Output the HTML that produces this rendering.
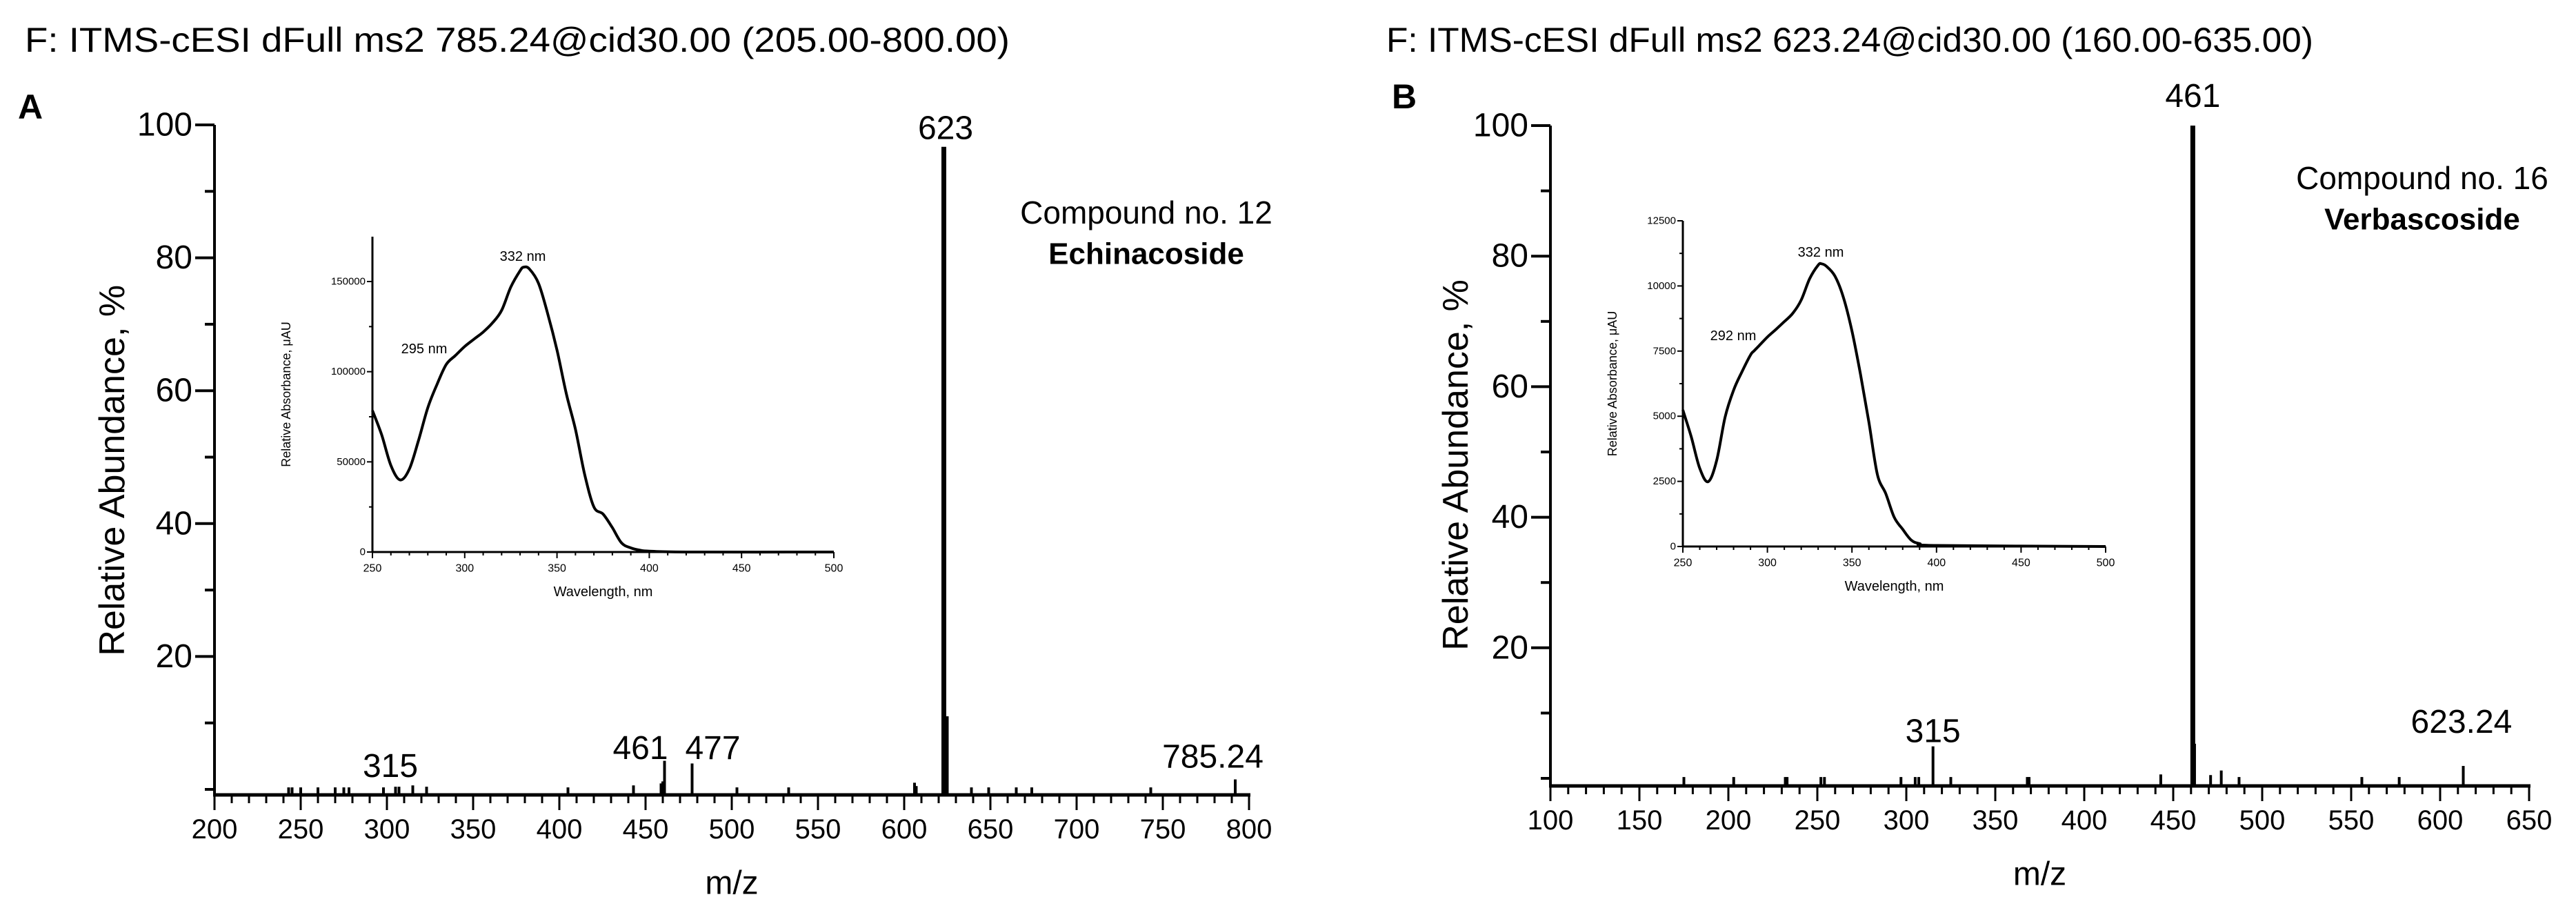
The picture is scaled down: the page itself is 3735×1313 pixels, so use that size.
<!DOCTYPE html>
<html><head><meta charset="utf-8"><style>
html,body{margin:0;padding:0;background:#fff;}
svg{display:block;font-family:"Liberation Sans",Arial,sans-serif;}
</style></head><body>
<svg id="fig" width="3735" height="1313" viewBox="0 0 3735 1313" xmlns="http://www.w3.org/2000/svg">
<rect width="3735" height="1313" fill="#fff"/>
<g id="gA"></g>
<g id="gB"></g>
</svg>
<script>
// ---- Panel A mass spectrum data ----
const mzA = [243,245,250,260,270,275,278,298,305,307,315,323,405,443,459,460,461,477,503,533,606,607,623,625,639,649,665,674,743,792];
const abA = [0.3,0.3,0.3,0.3,0.3,0.3,0.3,0.3,0.4,0.4,0.6,0.4,0.3,0.6,0.9,1.2,4.3,3.9,0.3,0.3,1.0,0.5,96.7,11,0.3,0.3,0.3,0.3,0.3,1.5];
const peakLabelsA = ["315","461","477","623","785.24"];
const peakLabelMzA = [302,447,489,624,779];
const peakLabelAbA = [3.5,6.2,6.2,99.5,4.9];
// ---- Panel B mass spectrum data ----
const mzB = [175,203,232,233,252,254,297,305,307,315,325,368,369,443,461,462,471,477,487,556,577,613];
const abB = [0.2,0.2,0.2,0.2,0.2,0.2,0.2,0.2,0.2,4.9,0.2,0.2,0.2,0.6,100,5.3,0.5,1.2,0.2,0.2,0.2,1.9];
const peakLabelsB = ["315","461","623.24"];
const peakLabelMzB = [315,461,612];
const peakLabelAbB = [7.2,104.5,8.6];
// ---- Inset UV spectra ----
const wlA = [250,255,260,265,270,275,280,285,290,295,300,305,310,315,320,325,330,332,335,340,345,350,355,360,365,370,375,380,385,390,395,400,420,500];
const uvA = [78500,65000,48000,40000,46000,62000,80000,93000,104000,109000,114000,118000,122000,127000,134000,147000,156000,158000,157000,149000,132000,112000,88000,68000,43000,25000,21000,13500,5000,2300,1000,500,0,0];
const wlB = [250,255,260,265,270,275,280,285,290,292,295,300,305,310,315,320,325,330,332,335,340,345,350,355,360,365,370,375,380,385,390,400,500];
const uvB = [5240,4200,3000,2490,3300,4970,6000,6710,7350,7500,7700,8040,8330,8630,8950,9460,10280,10800,10850,10750,10370,9550,8270,6620,4780,2770,2030,1120,660,250,110,40,0];
const yTicksA = [0,50000,100000,150000];
const yTicksB = [0,2500,5000,7500,10000,12500];
const xTicksUV = [250,300,350,400,450,500];

const NS="http://www.w3.org/2000/svg";
function mk(parent,tag,attrs,name,text){
  const e=document.createElementNS(NS,tag);
  for(const k in attrs)e.setAttribute(k,attrs[k]);
  
  
  if(text!==undefined)e.textContent=text;
  parent.appendChild(e);return e;
}
function line(p,x1,y1,x2,y2,w,name){return mk(p,'line',{x1,y1,x2,y2,stroke:'#000','stroke-width':w},name);}
function txt(p,x,y,s,size,anchor,name,extra){
  const a=Object.assign({x,y,'font-size':size,'text-anchor':anchor||'middle','dominant-baseline':'central',fill:'#000'},extra||{});
  return mk(p,'text',a,name,s);
}

function spectrum(g,cfg){
  const X=m=>cfg.x0+(m-cfg.m0)*cfg.px;
  const Y=v=>cfg.yz-v*cfg.py;
  txt(g,cfg.titleX,58,cfg.title,50,'start','scan-title',{textLength:cfg.titleLen,lengthAdjust:'spacingAndGlyphs'});
  txt(g,cfg.letterX,cfg.letterY,cfg.letter,50,'start','panel-letter',{'font-weight':'bold'});
  line(g,cfg.x0,Y(100),cfg.x0,cfg.ax,4,'y-axis');
  for(let v=0;v<=100;v+=10){
    const major=v%20===0&&v>0;
    line(g,cfg.x0-(major?28:14),Y(v),cfg.x0,Y(v),4,'y-tick');
    if(major) txt(g,cfg.x0-32,Y(v),String(v),48,'end','y-tick-label');
  }
  line(g,cfg.x0-2,cfg.ax,X(cfg.m1)+2,cfg.ax,5,'x-axis');
  for(let m=cfg.m0;m<=cfg.m1;m+=10){
    const major=m%50===0;
    line(g,X(m),cfg.ax,X(m),cfg.ax+(major?22:12),3,'x-tick');
    if(major) txt(g,X(m),cfg.ax+50,String(m),40,'middle','x-tick-label');
  }
  txt(g,cfg.yTitleX,cfg.yz-48*cfg.py,'Relative Abundance, %',52,'middle','y-axis-title',{transform:`rotate(-90 ${cfg.yTitleX} ${cfg.yz-48*cfg.py})`});
  txt(g,(X(cfg.m0)+X(cfg.m1))/2,cfg.ax+128,'m/z',48,'middle','x-axis-title');
  cfg.mz.forEach((m,i)=>{
    const w=cfg.ab[i]>50?7:4;
    const r=mk(g,'rect',{x:X(m)-w/2,y:Y(cfg.ab[i]),width:w,height:cfg.ax-Y(cfg.ab[i]),fill:'#000'},'peak-bar');
    
  });
  cfg.labels.forEach((s,i)=>{
    txt(g,X(cfg.lmz[i]),Y(cfg.lab[i]),s,48,'middle','peak-label');
  });
  txt(g,cfg.cX,cfg.cY1,cfg.c1,46,'middle','compound-number');
  txt(g,cfg.cX,cfg.cY2,cfg.c2,44,'middle','compound-name',{'font-weight':'bold'});
}

function smoothPath(pts){
  let d='M'+pts[0][0].toFixed(1)+' '+pts[0][1].toFixed(1);
  for(let i=0;i<pts.length-1;i++){
    const p0=pts[Math.max(0,i-1)],p1=pts[i],p2=pts[i+1],p3=pts[Math.min(pts.length-1,i+2)];
    const c1x=p1[0]+(p2[0]-p0[0])/6,c1y=p1[1]+(p2[1]-p0[1])/6;
    const c2x=p2[0]-(p3[0]-p1[0])/6,c2y=p2[1]-(p3[1]-p1[1])/6;
    d+=` C${c1x.toFixed(1)} ${c1y.toFixed(1)} ${c2x.toFixed(1)} ${c2y.toFixed(1)} ${p2[0].toFixed(1)} ${p2[1].toFixed(1)}`;
  }
  return d;
}

function inset(g,cfg){
  const X=w=>cfg.x0+(w-250)*cfg.px;
  const Y=v=>cfg.y0-v*cfg.py;
  line(g,cfg.x0,cfg.top,cfg.x0,cfg.y0,3,'inset-y-axis');
  line(g,cfg.x0,cfg.y0,X(500),cfg.y0,3,'inset-x-axis');
  cfg.yt.forEach((v,i)=>{
    line(g,cfg.x0-8,Y(v),cfg.x0,Y(v),2,'inset-y-tick');
    txt(g,cfg.x0-10,Y(v),String(v),15,'end','inset-y-tick-label');
    if(i<cfg.yt.length-1){const h=(v+cfg.yt[i+1])/2;line(g,cfg.x0-5,Y(h),cfg.x0,Y(h),2,'inset-y-minor-tick');}
  });
  for(let w=250;w<=500;w+=10){
    const major=w%50===0;
    line(g,X(w),cfg.y0,X(w),cfg.y0+(major?9:5),2,'inset-x-tick');
  }
  xTicksUV.forEach(w=>txt(g,X(w),cfg.y0+24,String(w),16,'middle','inset-x-tick-label'));
  txt(g,(X(250)+X(500))/2,cfg.y0+58,'Wavelength, nm',20,'middle','inset-x-axis-title');
  const yc=(cfg.top+cfg.y0)/2;
  txt(g,cfg.ytX,yc,'Relative Absorbance, \u03bcAU',18,'middle','inset-y-axis-title',{transform:`rotate(-90 ${cfg.ytX} ${yc})`});
  const pts=cfg.wl.map((w,i)=>[X(w),Y(cfg.uv[i])]);
  mk(g,'path',{d:smoothPath(pts),fill:'none',stroke:'#000','stroke-width':4,'stroke-linejoin':'round'},'uv-spectrum-line');
  txt(g,cfg.l1[0],cfg.l1[1],'332 nm',20,'middle','uv-max-label');
  txt(g,cfg.l2[0],cfg.l2[1],cfg.l2[2],20,'middle','uv-shoulder-label');
}

const gA=document.getElementById('gA'), gB=document.getElementById('gB');
spectrum(gA,{x0:311,m0:200,m1:800,px:2.5,yz:1144,py:9.63,ax:1152,
  title:'F: ITMS-cESI dFull ms2 785.24@cid30.00 (205.00-800.00)',titleX:36,titleLen:1428,
  letter:'A',letterX:26,letterY:155,yTitleX:163,
  mz:mzA,ab:abA,labels:peakLabelsA,lmz:peakLabelMzA,lab:peakLabelAbA,
  cX:1662,cY1:308,cY2:368,c1:'Compound no. 12',c2:'Echinacoside'});
spectrum(gB,{x0:2248,m0:100,m1:650,px:2.58,yz:1128,py:9.46,ax:1139,
  title:'F: ITMS-cESI dFull ms2 623.24@cid30.00 (160.00-635.00)',titleX:2010,titleLen:1344,
  letter:'B',letterX:2018,letterY:140,yTitleX:2111,
  mz:mzB,ab:abB,labels:peakLabelsB,lmz:peakLabelMzB,lab:peakLabelAbB,
  cX:3512,cY1:258,cY2:318,c1:'Compound no. 16',c2:'Verbascoside'});
inset(gA,{x0:540,y0:800,top:343,px:(1209-540)/250,py:(800-408)/150000,yt:yTicksA,wl:wlA,uv:uvA,ytX:415,
  l1:[758,372],l2:[615,506,'295 nm']});
inset(gB,{x0:2440,y0:792,top:320,px:(3053-2440)/250,py:(792-320)/12500,yt:yTicksB,wl:wlB,uv:uvB,ytX:2338,
  l1:[2640,366],l2:[2513,487,'292 nm']});
</script>
</body></html>
